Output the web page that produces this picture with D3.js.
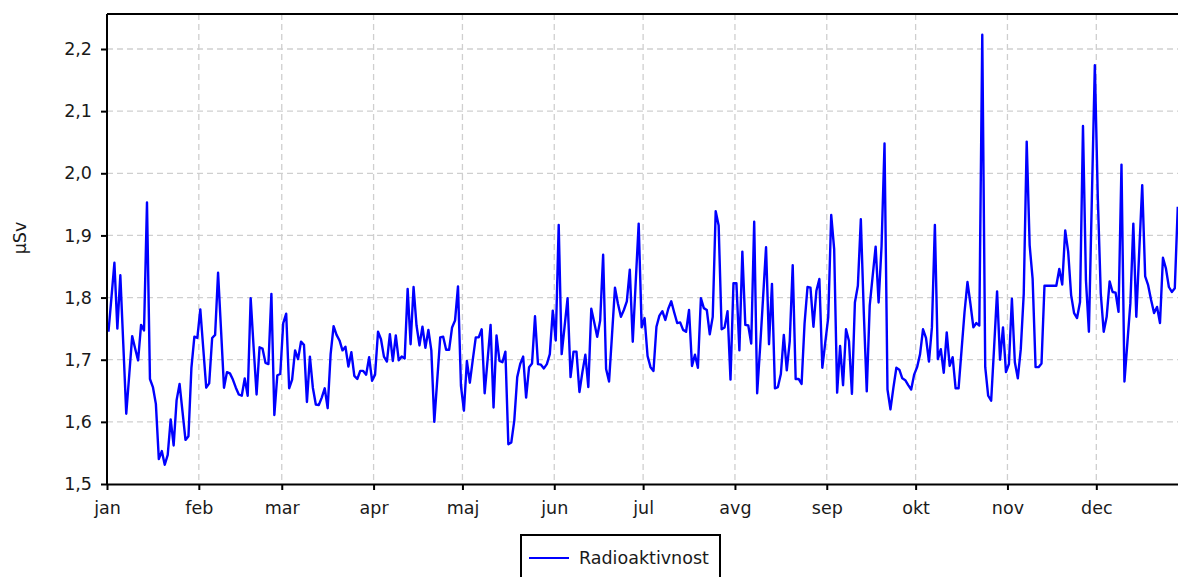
<!DOCTYPE html>
<html>
<head>
<meta charset="utf-8">
<script src="https://cdn.jsdelivr.net/npm/d3@7"></script>
<style>
body { margin: 0; background: #fff; overflow: hidden; }
svg { display: block; font-family: "DejaVu Sans", sans-serif; }
</style>
</head>
<body>
<svg id="vis" width="1178" height="577"></svg>
<script>
var vis = d3.select("#vis");

// tick labels
var months = ["jan", "feb", "mar", "apr", "maj", "jun", "jul", "avg", "sep", "okt", "nov", "dec"];
var yTicks = [1.5, 1.6, 1.7, 1.8, 1.9, 2.0, 2.1, 2.2];
var seriesName = "Radioaktivnost";
var unit = "µSv";

// daily values, one array per month (dec is cut off at the right edge)
var jan = [1.745, 1.80, 1.856, 1.750, 1.836, 1.725, 1.613, 1.675, 1.738, 1.718,
    1.699, 1.756, 1.747, 1.953, 1.669, 1.656, 1.629, 1.540, 1.553, 1.531,
    1.547, 1.604, 1.562, 1.635, 1.661, 1.616, 1.571, 1.577, 1.687, 1.737, 1.735];
var feb = [1.781, 1.718, 1.655, 1.662, 1.735, 1.740, 1.840, 1.748, 1.655, 1.680,
    1.678, 1.668, 1.655, 1.644, 1.642, 1.670, 1.642, 1.799, 1.720, 1.644,
    1.720, 1.718, 1.695, 1.693, 1.806, 1.611, 1.675, 1.677];
var mar = [1.759, 1.774, 1.654, 1.668, 1.715, 1.701, 1.729, 1.724, 1.632, 1.705,
    1.655, 1.628, 1.627, 1.639, 1.654, 1.622, 1.709, 1.754, 1.740, 1.731,
    1.715, 1.721, 1.689, 1.712, 1.674, 1.669, 1.682, 1.682, 1.676, 1.704, 1.666];
var apr = [1.676, 1.745, 1.733, 1.705, 1.697, 1.741, 1.698, 1.739, 1.699, 1.705,
    1.702, 1.814, 1.725, 1.817, 1.755, 1.723, 1.753, 1.719, 1.748, 1.715,
    1.600, 1.668, 1.736, 1.737, 1.716, 1.716, 1.752, 1.763, 1.818, 1.658];
var maj = [1.618, 1.698, 1.663, 1.700, 1.736, 1.736, 1.749, 1.646, 1.700, 1.756,
    1.623, 1.739, 1.698, 1.696, 1.713, 1.564, 1.567, 1.602, 1.672, 1.693,
    1.705, 1.639, 1.688, 1.694, 1.770, 1.693, 1.692, 1.686, 1.693, 1.709, 1.779];
var jun = [1.731, 1.917, 1.709, 1.754, 1.799, 1.672, 1.713, 1.713, 1.648, 1.680,
    1.708, 1.656, 1.782, 1.760, 1.737, 1.763, 1.869, 1.685, 1.665, 1.740,
    1.816, 1.790, 1.769, 1.780, 1.794, 1.845, 1.729, 1.825, 1.919, 1.752];
var jul = [1.767, 1.706, 1.688, 1.682, 1.753, 1.771, 1.778, 1.764, 1.782, 1.794,
    1.776, 1.759, 1.760, 1.748, 1.745, 1.780, 1.690, 1.708, 1.687, 1.799,
    1.783, 1.780, 1.741, 1.769, 1.939, 1.916, 1.749, 1.752, 1.778, 1.668, 1.823];
var avg = [1.823, 1.715, 1.874, 1.756, 1.755, 1.726, 1.922, 1.646, 1.720, 1.800,
    1.881, 1.725, 1.822, 1.654, 1.656, 1.677, 1.740, 1.683, 1.730, 1.852,
    1.669, 1.669, 1.661, 1.758, 1.817, 1.816, 1.753, 1.811, 1.830, 1.687, 1.728];
var sep = [1.768, 1.933, 1.878, 1.647, 1.722, 1.659, 1.749, 1.730, 1.645, 1.792,
    1.819, 1.926, 1.776, 1.649, 1.787, 1.835, 1.882, 1.792, 1.883, 2.048,
    1.652, 1.620, 1.655, 1.687, 1.684, 1.670, 1.667, 1.659, 1.652, 1.676];
var okt = [1.688, 1.709, 1.749, 1.735, 1.697, 1.752, 1.917, 1.701, 1.717, 1.679,
    1.744, 1.690, 1.704, 1.654, 1.654, 1.715, 1.776, 1.825, 1.790, 1.752,
    1.759, 1.755, 2.223, 1.688, 1.642, 1.634, 1.720, 1.810, 1.700, 1.752, 1.680];
var nov = [1.693, 1.798, 1.696, 1.670, 1.717, 1.806, 2.051, 1.884, 1.830, 1.688,
    1.688, 1.694, 1.819, 1.819, 1.819, 1.819, 1.819, 1.846, 1.821, 1.908,
    1.874, 1.804, 1.775, 1.767, 1.793, 2.076, 1.828, 1.745, 1.960, 2.174];
var dec = [1.962, 1.807, 1.745, 1.769, 1.826, 1.809, 1.808, 1.777, 2.014, 1.665,
    1.728, 1.791, 1.919, 1.769, 1.875, 1.981, 1.834, 1.820, 1.796, 1.775,
    1.785, 1.759, 1.864, 1.847, 1.817, 1.809, 1.815, 1.946];

var year = 2021;
var values = [].concat(jan, feb, mar, apr, maj, jun, jul, avg, sep, okt, nov, dec);
// points sit at noon of each day
var data = values.map((v, i) => ({ date: new Date(Date.UTC(year, 0, 1 + i, 12)), value: v }));
var monthStarts = months.map((m, i) => new Date(Date.UTC(year, i, 1)));

// plot frame (window.top is taken, so plotTop)
var plotLeft = 107, plotTop = 14, plotBottom = 484;
var plotRight = plotLeft + 2.962 * 365;

var x = d3.scaleUtc()
    .domain([new Date(Date.UTC(year, 0, 1)), new Date(Date.UTC(year + 1, 0, 1))])
    .range([plotLeft, plotRight]);
var y = d3.scaleLinear()
    .domain([1.5, 2.2])
    .range([plotBottom, 49]);

// grid
vis.append("g").selectAll("line")
    .data(yTicks.slice(1))
    .join("line")
    .attr("x1", plotLeft).attr("x2", plotRight)
    .attr("y1", d => y(d)).attr("y2", d => y(d))
    .attr("stroke", "#cfcfcf")
    .attr("stroke-width", 1.3)
    .attr("stroke-dasharray", "6,4");

vis.append("g").selectAll("line")
    .data(monthStarts.slice(1))
    .join("line")
    .attr("x1", d => x(d)).attr("x2", d => x(d))
    .attr("y1", plotTop).attr("y2", plotBottom)
    .attr("stroke", "#cfcfcf")
    .attr("stroke-width", 1.3)
    .attr("stroke-dasharray", "6,4");

// series
var line = d3.line()
    .x(d => x(d.date))
    .y(d => y(d.value));

vis.append("path")
    .datum(data)
    .attr("d", line)
    .attr("fill", "none")
    .attr("stroke", "#0000ff")
    .attr("stroke-width", 2.4)
    .attr("stroke-linejoin", "round");

// top border (right side is cut off)
vis.append("line")
    .attr("x1", plotLeft).attr("x2", plotRight)
    .attr("y1", plotTop).attr("y2", plotTop)
    .attr("stroke", "#000")
    .attr("stroke-width", 2);

// axes
var yAxis = vis.append("g")
    .attr("transform", `translate(${plotLeft},0)`)
    .call(d3.axisLeft(y)
        .tickValues(yTicks)
        .tickFormat(d => d.toFixed(1).replace(".", ","))
        .tickSize(6)
        .tickPadding(9)
        .tickSizeOuter(0));
yAxis.select(".domain").attr("d", `M0,${plotTop}V${plotBottom}`);

var xAxis = vis.append("g")
    .attr("transform", `translate(0,${plotBottom})`)
    .call(d3.axisBottom(x)
        .tickValues(monthStarts)
        .tickFormat((d, i) => months[i])
        .tickSize(6)
        .tickPadding(12)
        .tickSizeOuter(0));

vis.selectAll(".domain").attr("stroke", "#000").attr("stroke-width", 2);
vis.selectAll(".tick line").attr("stroke", "#000").attr("stroke-width", 2);
vis.selectAll(".tick text")
    .attr("font-size", "17.5px")
    .attr("font-family", "DejaVu Sans, sans-serif")
    .attr("fill", "#1a1a1a");

// y title
vis.append("text")
    .attr("transform", "translate(26,238) rotate(-90)")
    .attr("text-anchor", "middle")
    .attr("font-size", "17.5px")
    .attr("fill", "#1a1a1a")
    .text(unit);

// legend
var legend = vis.append("g").attr("transform", "translate(521,535)");
legend.append("rect")
    .attr("width", 199)
    .attr("height", 60)
    .attr("fill", "#fff")
    .attr("stroke", "#000")
    .attr("stroke-width", 2);
legend.append("line")
    .attr("x1", 8).attr("x2", 48)
    .attr("y1", 23).attr("y2", 23)
    .attr("stroke", "#0000ff")
    .attr("stroke-width", 2);
legend.append("text")
    .attr("x", 58)
    .attr("y", 23)
    .attr("dy", "0.35em")
    .attr("font-size", "17.5px")
    .attr("fill", "#1a1a1a")
    .text(seriesName);
</script>
</body>
</html>
